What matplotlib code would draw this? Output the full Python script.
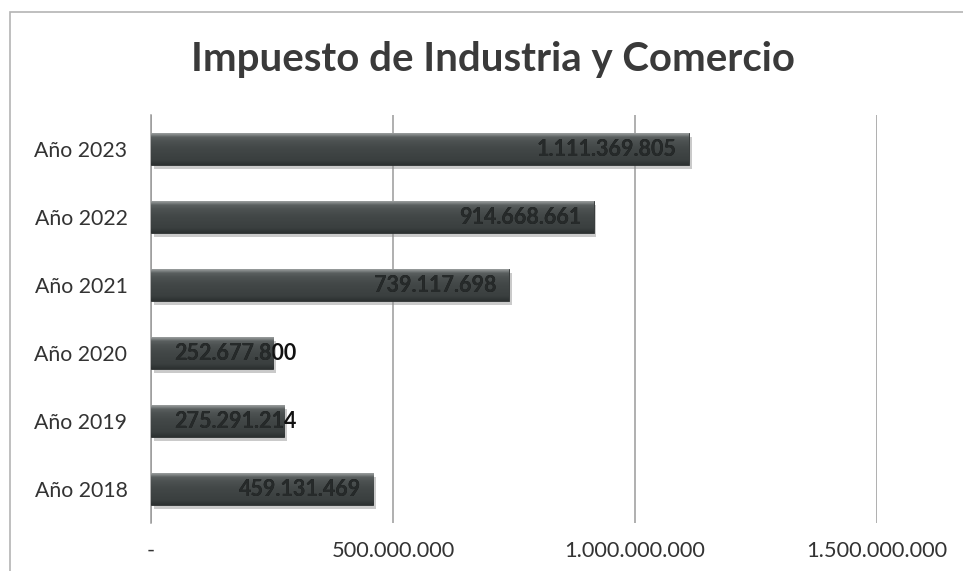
import matplotlib
matplotlib.use("Agg")
import matplotlib.pyplot as plt
import matplotlib.patheffects as pe
from matplotlib.patches import Rectangle
from matplotlib.colors import LinearSegmentedColormap
import numpy as np

years = ["Año 2018", "Año 2019", "Año 2020", "Año 2021", "Año 2022", "Año 2023"]
values = [459131469, 275291214, 252677800, 739117698, 914668661, 1111369805]
x_ticks = [0, 500000000, 1000000000, 1500000000]
x_tick_labels = ["-", "500.000.000", "1.000.000.000", "1.500.000.000"]
title = "Impuesto de Industria y Comercio"

W, H, DPI = 963, 571, 100
fig = plt.figure(figsize=(W / DPI, H / DPI), dpi=DPI)
fig.patch.set_facecolor("white")

# outer chart border
fig.patches.append(Rectangle((10 / W, -0.02), 1.0, 1 - 12 / H + 0.02,
                             transform=fig.transFigure, fill=False,
                             edgecolor="#b4b4b4", linewidth=1.2))

ax = fig.add_axes([151 / W, 1 - 523 / H, (877 - 151) / W, (523 - 115) / H])
ax.set_facecolor("none")

def fmt(v):
    return f"{int(round(v)):,}".replace(",", ".")

ypos = np.arange(len(years))
bar_h = 0.47
bars = ax.barh(ypos, values, height=bar_h, color="#3f4444", edgecolor="#2c3030",
               linewidth=0.6, zorder=3,
               path_effects=[pe.SimplePatchShadow(offset=(2, -3), shadow_rgbFace="#8a8a8a", alpha=0.45),
                             pe.Normal()])

# vertical gradient overlay for a glossy look
grad = np.linspace(0, 1, 100).reshape(-1, 1)
cmap = LinearSegmentedColormap.from_list(
    "g", [(0.0, "#2c3030"), (0.15, "#3a3f3f"), (0.55, "#434848"), (0.75, "#4d5252"),
          (0.88, "#5a5f5f"), (0.94, "#7c8080"), (1.0, "#9a9e9e")])
for b, y, v in zip(bars, ypos, values):
    im = ax.imshow(grad, extent=[0, v, y - bar_h / 2, y + bar_h / 2], origin="lower",
                   cmap=cmap, aspect="auto", zorder=4, interpolation="bilinear")
    im.set_clip_path(b)

ax.set_xlim(0, 1500000000)
ax.set_ylim(-0.5, len(years) - 0.5)
ax.set_aspect("auto")

# labels: black outside, dark gray inside the bar
thresh = 326000000
for b, y, v in zip(bars, ypos, values):
    xe = max(v, thresh)
    for col, clip in (("#111111", False), ("#262a2a", True)):
        t = ax.annotate(fmt(v), xy=(xe, y), xytext=(-9, 0), textcoords="offset points",
                        ha="right", va="center", fontsize=15.5, fontweight="bold",
                        family="Lato", color=col, zorder=6)
        if clip:
            t.set_clip_path(b)

ax.set_xticks(x_ticks)
ax.set_xticklabels(x_tick_labels)
ax.set_yticks(ypos)
ax.set_yticklabels(years)
ax.tick_params(axis="x", length=0, pad=13, labelsize=15.7, labelcolor="#333333")
ax.tick_params(axis="y", length=0, pad=17, labelsize=15.3, labelcolor="#333333")
for lab in ax.get_xticklabels() + ax.get_yticklabels():
    lab.set_family("Lato")

ax.grid(axis="x", color="#9a9a9a", linewidth=1.1, zorder=0)
ax.grid(axis="y", visible=False)
for s in ["top", "right", "bottom"]:
    ax.spines[s].set_visible(False)
ax.spines["left"].set_color("#9a9a9a")
ax.spines["left"].set_linewidth(1.1)

fig.text(493 / W, 1 - 60 / H, title, ha="center", va="center", fontsize=28.9,
         fontweight="bold", family="Lato", color="#3a3a3a")

fig.savefig("out.png", dpi=DPI)
